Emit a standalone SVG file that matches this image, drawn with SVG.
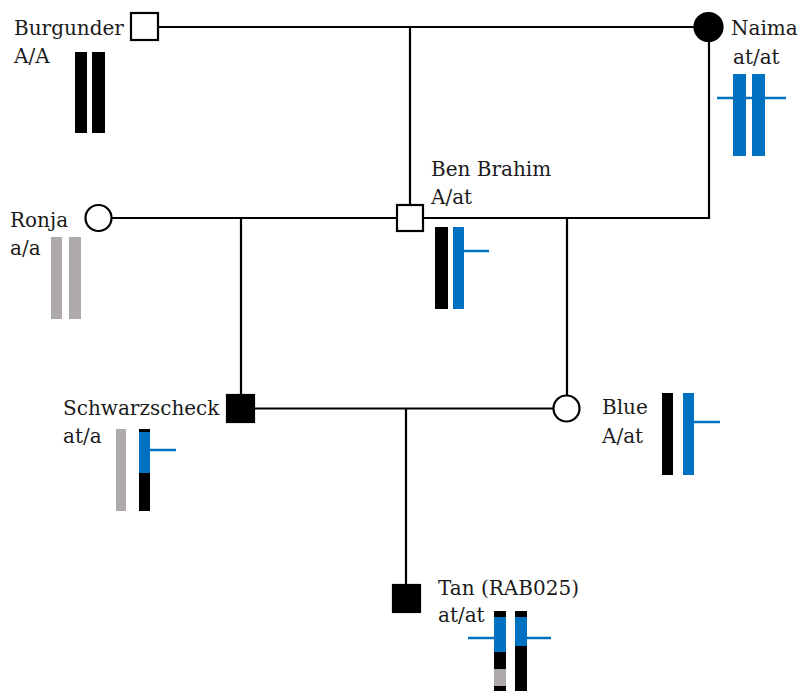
<svg xmlns="http://www.w3.org/2000/svg" width="805" height="691" viewBox="0 0 805 691">
  <style>
    .lbl { font-family: "DejaVu Serif", "Liberation Serif", serif; font-size: 20px; fill: #1a1a1a; }
    .edge { stroke: #000; stroke-width: 2.2; fill: none; }
    .sym { stroke: #000; stroke-width: 2.2; }
    .open { fill: #fff; }
    .filled { fill: #000; }
    .blk { fill: #000; }
    .blu { fill: #0070C0; }
    .gry { fill: #AEAAAA; }
    .tick { stroke: #0070C0; stroke-width: 2.5; }
  </style>
  <rect width="805" height="691" fill="#fff"/>

  <!-- connectors -->
  <g id="connectors">
    <path class="edge" d="M158 27 H695"/>
    <path class="edge" d="M410 27 V204"/>
    <path class="edge" d="M112 218 H709 V41"/>
    <path class="edge" d="M241 218 V394"/>
    <path class="edge" d="M567 218 V395"/>
    <path class="edge" d="M255 408.5 H553"/>
    <path class="edge" d="M406 408.5 V585"/>
  </g>

  <!-- Burgunder -->
  <g id="burgunder">
    <rect class="sym open" x="131" y="13" width="27" height="27"/>
    <text class="lbl" x="14" y="35">Burgunder</text>
    <text class="lbl" x="14" y="63">A/A</text>
    <rect class="blk" x="75" y="52" width="12" height="81"/>
    <rect class="blk" x="92" y="52" width="13" height="81"/>
  </g>

  <!-- Naima -->
  <g id="naima">
    <circle class="sym filled" cx="708.5" cy="27" r="14"/>
    <text class="lbl" x="731" y="35">Naima</text>
    <text class="lbl" x="733" y="64">at/at</text>
    <line class="tick" x1="717" y1="98" x2="786" y2="98"/>
    <rect class="blu" x="733" y="74" width="13" height="82"/>
    <rect class="blu" x="752" y="74" width="13" height="82"/>
  </g>

  <!-- Ronja -->
  <g id="ronja">
    <circle class="sym open" cx="98.5" cy="218" r="13"/>
    <text class="lbl" x="10" y="227">Ronja</text>
    <text class="lbl" x="10" y="255">a/a</text>
    <rect class="gry" x="51" y="237" width="11" height="82"/>
    <rect class="gry" x="69" y="237" width="12" height="82"/>
  </g>

  <!-- Ben Brahim -->
  <g id="ben-brahim">
    <rect class="sym open" x="397" y="205" width="26" height="26"/>
    <text class="lbl" x="431" y="176">Ben Brahim</text>
    <text class="lbl" x="431" y="204">A/at</text>
    <rect class="blk" x="435" y="227" width="13" height="82"/>
    <line class="tick" x1="460" y1="251" x2="489" y2="251"/>
    <rect class="blu" x="453" y="227" width="11" height="82"/>
  </g>

  <!-- Schwarzscheck -->
  <g id="schwarzscheck">
    <rect class="sym filled" x="227" y="395" width="27" height="27"/>
    <text class="lbl" x="63" y="415">Schwarzscheck</text>
    <text class="lbl" x="63" y="443">at/a</text>
    <rect class="gry" x="116" y="429" width="10" height="82"/>
    <rect class="blk" x="139" y="429" width="11" height="82"/>
    <rect class="blu" x="139" y="432" width="11" height="41"/>
    <line class="tick" x1="146" y1="450" x2="176" y2="450"/>
  </g>

  <!-- Blue -->
  <g id="blue">
    <circle class="sym open" cx="566.5" cy="408.5" r="13"/>
    <text class="lbl" x="602" y="414">Blue</text>
    <text class="lbl" x="602" y="443">A/at</text>
    <rect class="blk" x="662" y="393" width="11" height="82"/>
    <line class="tick" x1="690" y1="422" x2="720" y2="422"/>
    <rect class="blu" x="683" y="393" width="11" height="82"/>
  </g>

  <!-- Tan (RAB025) -->
  <g id="tan">
    <rect class="sym filled" x="393" y="585" width="27" height="27"/>
    <text class="lbl" x="438" y="595">Tan (RAB025)</text>
    <text class="lbl" x="438" y="622">at/at</text>
    <line class="tick" x1="468" y1="638" x2="497" y2="638"/>
    <line class="tick" x1="524" y1="638" x2="551" y2="638"/>
    <rect class="blk" x="494" y="611" width="12" height="80"/>
    <rect class="blu" x="494" y="617" width="12" height="35"/>
    <rect class="gry" x="494" y="669" width="12" height="17"/>
    <rect class="blk" x="515" y="611" width="12" height="80"/>
    <rect class="blu" x="515" y="617" width="12" height="29"/>
  </g>
</svg>
